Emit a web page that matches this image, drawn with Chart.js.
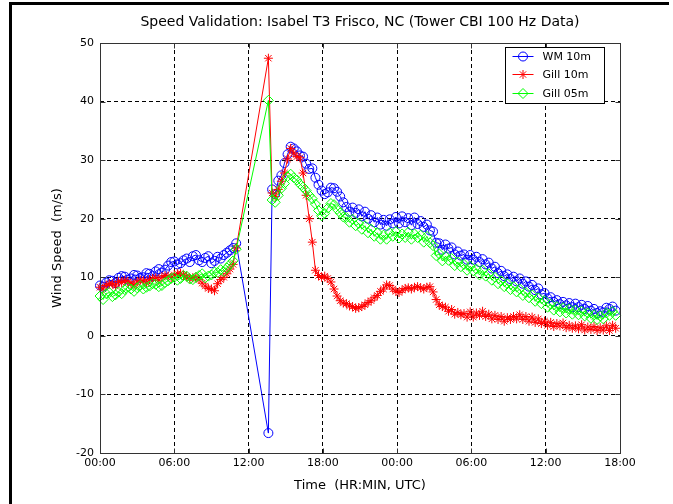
<!DOCTYPE html>
<html>
<head>
<meta charset="utf-8">
<title>Speed Validation: Isabel T3 Frisco, NC</title>
<script src="https://cdn.jsdelivr.net/npm/chart.js@4/dist/chart.umd.min.js"></script>
<style>
  html, body { margin: 0; padding: 0; background: #fff; }
  #wrap { position: relative; width: 673px; height: 504px; overflow: hidden; background: #fff; }
  #frame { position: absolute; left: 9px; top: 2px; width: 660px; height: 520px;
           border-left: 3px solid #000; border-top: 3px solid #000; box-sizing: border-box; pointer-events: none; }
  canvas { display: block; }
</style>
</head>
<body>
<div id="wrap">
  <canvas id="chart" width="673" height="504" style="width:673px;height:504px"></canvas>
  <div id="frame"></div>
</div>
<script>
// Elapsed time in hours from 00:00 UTC (no samples between 11:00 and 13:36)
const timeHours = [
  0, 0.25, 0.5, 0.75, 1, 1.25, 1.5, 1.75, 2,
  2.25, 2.5, 2.75, 3, 3.25, 3.5, 3.75, 4, 4.25,
  4.5, 4.75, 5, 5.25, 5.5, 5.75, 6, 6.25, 6.5,
  6.75, 7, 7.25, 7.5, 7.75, 8, 8.25, 8.5, 8.75,
  9, 9.25, 9.5, 9.75, 10, 10.25, 10.5, 10.75, 11,
  13.6,
  13.9, 14.15, 14.4, 14.65, 14.9, 15.15, 15.4, 15.65,
  15.9, 16.15, 16.4, 16.65, 16.9, 17.15, 17.4, 17.65,
  17.9, 18.15, 18.4, 18.65, 18.9, 19.15, 19.4, 19.65,
  19.9, 20.15, 20.4, 20.65, 20.9, 21.15, 21.4, 21.65,
  21.9, 22.15, 22.4, 22.65, 22.9, 23.15, 23.4, 23.65,
  23.9, 24.15, 24.4, 24.65, 24.9, 25.15, 25.4, 25.65,
  25.9, 26.15, 26.4, 26.65, 26.9, 27.15, 27.4, 27.65,
  27.9, 28.15, 28.4, 28.65, 28.9, 29.15, 29.4, 29.65,
  29.9, 30.15, 30.4, 30.65, 30.9, 31.15, 31.4, 31.65,
  31.9, 32.15, 32.4, 32.65, 32.9, 33.15, 33.4, 33.65,
  33.9, 34.15, 34.4, 34.65, 34.9, 35.15, 35.4, 35.65,
  35.9, 36.15, 36.4, 36.65, 36.9, 37.15, 37.4, 37.65,
  37.9, 38.15, 38.4, 38.65, 38.9, 39.15, 39.4, 39.65,
  39.9, 40.15, 40.4, 40.65, 40.9, 41.15, 41.4, 41.65
];

// Wind speed (m/s), WM sonic at 10 m
const wm10 = [
  8.6, 8.4, 9.1, 9.5, 9.4, 9.0, 9.9, 10.2, 10.1,
  9.6, 9.8, 10.4, 10.3, 9.9, 10.0, 10.7, 10.6, 10.2,
  11.0, 11.4, 10.8, 11.3, 12.0, 12.6, 12.7, 12.2, 12.4,
  12.9, 13.2, 12.6, 13.6, 13.8, 12.9, 12.6, 13.3, 13.6,
  12.4, 12.8, 13.5, 13.2, 13.8, 14.2, 14.6, 15.0, 15.8,
  -16.6,
  25.0, 24.2, 26.5, 27.4, 29.5, 31.0, 32.3, 32.0,
  31.5, 30.8, 30.6, 29.4, 28.5, 28.6, 27.0, 25.8,
  24.8, 24.2, 24.5, 25.3, 25.2, 24.6, 23.8, 22.8,
  22.0, 21.2, 21.9, 21.0, 21.6, 20.4, 21.2, 20.0,
  20.6, 19.4, 20.2, 19.0, 19.8, 18.8, 19.9, 19.2,
  20.3, 19.2, 20.4, 19.4, 20.1, 18.9, 20.2, 19.1,
  19.6, 18.6, 19.0, 18.0, 17.8, 15.9, 15.8, 14.7,
  15.6, 14.9, 15.1, 13.9, 14.4, 13.7, 13.9, 13.0,
  13.8, 13.0, 13.5, 12.6, 13.1, 12.2, 12.5, 11.5,
  11.8, 10.7, 11.1, 10.2, 10.5, 9.7, 10.1, 9.3,
  9.8, 8.9, 9.3, 8.4, 8.7, 7.8, 8.1, 7.1,
  7.3, 6.4, 6.6, 5.8, 6.1, 5.4, 5.8, 5.2,
  5.6, 4.9, 5.5, 4.9, 5.3, 4.6, 5.1, 4.3,
  4.6, 3.9, 4.2, 4.0, 4.8, 4.6, 5.0, 4.3
];

// Wind speed (m/s), Gill sonic at 10 m
const gill10 = [
  8.3, 8.0, 8.6, 8.9, 8.9, 8.5, 9.3, 9.1, 9.5,
  9.2, 9.0, 8.7, 9.2, 9.5, 9.4, 9.0, 9.6, 9.8,
  9.9, 9.5, 10.0, 10.3, 10.2, 9.9, 10.4, 10.6, 10.7,
  10.3, 10.2, 9.8, 9.9, 10.1, 9.6, 9.0, 8.5, 8.1,
  8.0, 7.7, 8.9, 9.6, 10.0, 10.6, 11.4, 12.2, 15.0,
  47.4,
  24.4, 23.8, 25.0, 26.4, 27.8, 30.2, 32.0, 31.2,
  30.6, 30.4, 27.8, 24.0, 20.0, 16.0, 11.2, 10.3,
  10.0, 10.2, 9.8, 9.2, 8.0, 6.8, 6.0, 5.6,
  5.5, 5.1, 5.0, 4.7, 4.8, 5.0, 5.3, 5.7,
  6.0, 6.5, 6.9, 7.6, 8.0, 8.7, 8.6, 8.0,
  7.6, 7.4, 7.8, 8.1, 8.2, 8.0, 8.3, 8.4,
  8.2, 8.0, 8.3, 8.4, 7.5, 6.2, 5.3, 5.0,
  4.9, 4.2, 4.5, 3.7, 4.0, 3.6, 3.8, 3.2,
  4.1, 3.2, 3.9, 3.5, 4.2, 3.3, 3.7, 2.9,
  3.5, 2.8, 3.3, 2.5, 3.1, 2.8, 3.3, 2.9,
  3.6, 2.8, 3.3, 2.5, 3.2, 2.3, 2.9, 2.1,
  2.5, 1.8, 2.3, 1.6, 2.1, 1.7, 2.2, 1.4,
  1.8, 1.3, 1.7, 1.2, 1.9, 1.0, 1.5, 1.1,
  1.6, 0.9, 1.4, 1.0, 1.7, 0.9, 1.8, 1.3
];

// Wind speed (m/s), Gill sonic at 5 m
const gill05 = [
  6.8, 6.2, 7.2, 7.4, 6.7, 7.0, 7.5, 7.2, 7.9,
  8.3, 8.0, 7.6, 8.2, 8.6, 8.0, 8.3, 8.5, 8.9,
  8.8, 8.4, 8.6, 9.1, 9.4, 9.8, 10.0, 9.5, 9.8,
  10.3, 10.2, 9.7, 9.6, 10.0, 10.3, 10.6, 9.9, 10.2,
  10.4, 10.9, 10.8, 11.3, 11.0, 11.6, 12.2, 12.8, 14.8,
  40.2,
  23.2, 22.8, 24.0, 25.2, 26.0, 27.2, 27.6, 27.0,
  26.6, 25.9, 25.4, 24.8, 24.0, 23.4, 22.5, 21.4,
  20.5, 20.9, 21.8, 22.6, 22.4, 21.6, 21.0, 20.3,
  20.2, 19.4, 19.9, 18.8, 19.2, 18.2, 18.8, 17.6,
  18.2, 17.0, 17.6, 16.5, 17.2, 16.5, 17.6, 17.0,
  17.8, 16.7, 17.4, 16.8, 17.7, 16.5, 17.4, 16.8,
  17.2, 16.0, 17.0, 15.9, 15.4, 13.7, 14.0, 12.8,
  13.6, 12.9, 13.2, 12.0, 12.6, 11.8, 12.2, 11.2,
  11.9, 11.1, 11.4, 10.4, 11.2, 10.2, 10.6, 9.5,
  10.0, 8.9, 9.4, 8.4, 8.9, 7.9, 8.4, 7.5,
  8.0, 6.9, 7.4, 6.5, 7.0, 5.9, 6.5, 5.5,
  6.0, 4.9, 5.4, 4.4, 5.0, 4.1, 4.8, 3.9,
  4.6, 3.7, 4.4, 3.6, 4.2, 3.4, 3.9, 3.0,
  3.6, 2.8, 3.4, 2.9, 3.9, 3.5, 4.2, 3.5
];

const seriesNames = ['WM 10m', 'Gill 10m', 'Gill 05m'];
const timeTickLabels = ['00:00', '06:00', '12:00', '18:00', '00:00', '06:00', '12:00', '18:00'];
const chartTitle = 'Speed Validation: Isabel T3 Frisco, NC (Tower CBI 100 Hz Data)';

const FONT = "'DejaVu Sans', 'Liberation Sans', Arial, sans-serif";

function toPoints(values) {
  return timeHours.map((t, i) => ({ x: t, y: values[i] }));
}

function makeSeries(name, values, color, style, radius, order) {
  return {
    label: name,
    data: toPoints(values),
    borderColor: color,
    backgroundColor: 'transparent',
    borderWidth: 1,
    pointStyle: style,
    pointRadius: radius,
    pointBorderWidth: 1,
    pointBorderColor: color,
    pointBackgroundColor: 'transparent',
    tension: 0,
    clip: false,
    order: order
  };
}

// Stroke a MATLAB-style marker
function strokeMarker(ctx, style, cx, cy, r) {
  ctx.beginPath();
  if (style === 'circle') {
    ctx.arc(cx, cy, r, 0, Math.PI * 2);
  } else if (style === 'rectRot') {
    ctx.moveTo(cx - r, cy); ctx.lineTo(cx, cy - r); ctx.lineTo(cx + r, cy); ctx.lineTo(cx, cy + r); ctx.closePath();
  } else if (style === 'star') {
    const d = r * Math.SQRT1_2;
    ctx.moveTo(cx, cy - r); ctx.lineTo(cx, cy + r);
    ctx.moveTo(cx - r, cy); ctx.lineTo(cx + r, cy);
    ctx.moveTo(cx - d, cy - d); ctx.lineTo(cx + d, cy + d);
    ctx.moveTo(cx - d, cy + d); ctx.lineTo(cx + d, cy - d);
  }
  ctx.stroke();
}

// Title centred over the axes, solid axes box, inward tick marks and the boxed legend
const axesFrame = {
  id: 'axesFrame',
  afterDraw(chart) {
    const { ctx, chartArea: a, scales } = chart;
    const L = Math.round(a.left) + 0.5, R = Math.round(a.right) + 0.5;
    const T = Math.round(a.top) + 0.5, B = Math.round(a.bottom) + 0.5;
    ctx.save();

    ctx.fillStyle = '#000';
    ctx.font = '14px ' + FONT;
    ctx.textAlign = 'center';
    ctx.textBaseline = 'middle';
    ctx.fillText(chartTitle, (a.left + a.right) / 2, a.top - 21);

    ctx.setLineDash([]);
    ctx.lineWidth = 1;
    ctx.strokeStyle = '#333';
    ctx.beginPath();
    scales.x.ticks.forEach(t => {
      const px = Math.round(scales.x.getPixelForValue(t.value)) + 0.5;
      ctx.moveTo(px, B); ctx.lineTo(px, B - 5);
      ctx.moveTo(px, T); ctx.lineTo(px, T + 5);
    });
    scales.y.ticks.forEach(t => {
      const py = Math.round(scales.y.getPixelForValue(t.value)) + 0.5;
      ctx.moveTo(L, py); ctx.lineTo(L + 5, py);
      ctx.moveTo(R, py); ctx.lineTo(R - 5, py);
    });
    ctx.stroke();
    ctx.strokeRect(L, T, R - L, B - T);

    // legend
    const w = 99, h = 56;
    const x0 = R - 115, y0 = T + 4;
    ctx.fillStyle = '#fff';
    ctx.fillRect(x0, y0, w, h);
    ctx.strokeStyle = '#000';
    ctx.strokeRect(x0, y0, w, h);
    ctx.font = '11px ' + FONT;
    ctx.textAlign = 'left';
    ctx.textBaseline = 'middle';
    chart.data.datasets.forEach((ds, i) => {
      const ry = Math.round(y0 + 8.5 + i * 18.3) + 0.5;
      ctx.strokeStyle = ds.borderColor;
      ctx.beginPath();
      ctx.moveTo(x0 + 7, ry); ctx.lineTo(x0 + 28, ry);
      ctx.stroke();
      strokeMarker(ctx, ds.pointStyle, x0 + 17.5, ry, ds.pointStyle === 'rectRot' ? 5 : 4.5);
      ctx.fillStyle = '#000';
      ctx.fillText(ds.label, x0 + 37, ry + 0.5);
    });
    ctx.restore();
  }
};

const gridOpts = { color: '#000', lineWidth: 1, drawTicks: false };
const borderOpts = { display: false, dash: [4, 3] };

new Chart(document.getElementById('chart'), {
  type: 'line',
  data: {
    datasets: [
      makeSeries(seriesNames[0], wm10, '#0000ff', 'circle', 4.5, 3),
      makeSeries(seriesNames[1], gill10, '#ff0000', 'star', 4.5, 2),
      makeSeries(seriesNames[2], gill05, '#00ff00', 'rectRot', 5, 1)
    ]
  },
  options: {
    responsive: false,
    animation: false,
    events: [],
    layout: { padding: { left: 0, right: 53, top: 43, bottom: 0 } },
    plugins: {
      legend: { display: false },
      tooltip: { enabled: false },
      title: { display: false }
    },
    scales: {
      x: {
        type: 'linear',
        min: 0,
        max: 42,
        afterFit(scale) { scale.height = 51; },
        ticks: {
          stepSize: 6,
          autoSkip: false,
          maxRotation: 0,
          color: '#000',
          padding: 4,
          font: { family: FONT, size: 11 },
          callback: (value, index) => timeTickLabels[index]
        },
        grid: gridOpts,
        border: borderOpts,
        title: {
          display: true,
          text: 'Time  (HR:MIN, UTC)',
          color: '#000',
          font: { family: FONT, size: 13 },
          padding: { top: 0, bottom: 11 }
        }
      },
      y: {
        min: -20,
        max: 50,
        afterFit(scale) { scale.width = 100; },
        ticks: {
          stepSize: 10,
          color: '#000',
          padding: 6,
          font: { family: FONT, size: 11 }
        },
        grid: gridOpts,
        border: borderOpts,
        title: {
          display: true,
          text: 'Wind Speed  (m/s)',
          color: '#000',
          font: { family: FONT, size: 13 },
          padding: { top: 50, bottom: 0 }
        }
      }
    }
  },
  plugins: [axesFrame]
});
</script>
</body>
</html>
